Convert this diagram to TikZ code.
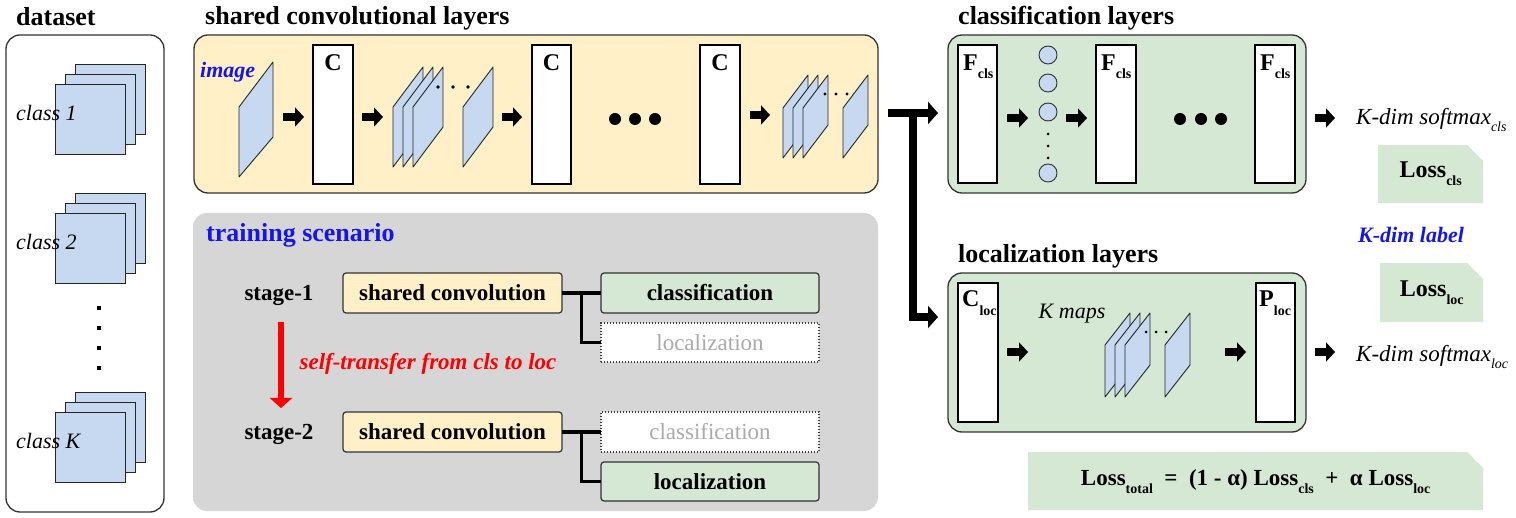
\documentclass[tikz,border=0pt]{standalone}
\usepackage{fontspec}
\setmainfont{Liberation Serif}
\usetikzlibrary{arrows.meta,shapes.misc,calc}
\definecolor{lblue}{RGB}{198,217,240}
\definecolor{lyel}{RGB}{255,240,200}
\definecolor{lgreen}{RGB}{213,232,212}
\definecolor{lgray}{RGB}{214,214,214}
\definecolor{dgray}{RGB}{50,50,50}
\definecolor{tblue}{RGB}{20,20,240}
\definecolor{tred}{RGB}{255,0,0}
\definecolor{fgray}{RGB}{170,170,170}
\newcommand{\fsz}[1]{\fontsize{#1}{#1}\selectfont}
\newcommand{\lowsub}[2][8pt]{\raisebox{-#1}{\fsz{14}#2}}
\newcommand{\parall}[5]{\draw[para] (#1,#2) -- ++(#3,-#4) -- ++(0,#5) -- ++(-#3,#4) -- cycle;}
\tikzset{
  rbox/.style={draw=dgray, line width=1.3pt, rounded corners=14pt, inner sep=0pt, outer sep=0pt, anchor=north west},
  wbox/.style={draw=black, fill=white, line width=1.1pt, inner sep=0pt, outer sep=0pt, anchor=north west},
  para/.style={draw=black!85, fill=lblue, line width=0.9pt, line join=round},
  sq/.style={draw=black!85, fill=lblue, line width=0.9pt, minimum size=70pt, inner sep=0pt, anchor=north west},
  barrow/.style={line width=7.5pt, -{Triangle[length=9pt,width=19pt]}},
  tarrow/.style={line width=8pt, line join=miter, -{Triangle[length=10pt,width=22pt]}},
  title/.style={font=\fsz{26}\bfseries, anchor=base west, inner sep=0pt},
  sbox/.style={draw=dgray, line width=1.2pt, rounded corners=3pt, anchor=north west, inner sep=0pt, outer sep=0pt, font=\fsz{23}\bfseries},
  dbox/.style={draw=black!75, line width=1.1pt, dash pattern=on 1.1pt off 1.9pt, fill=white, anchor=north west, inner sep=0pt, outer sep=0pt, font=\fsz{23}, text=fgray},
  tline/.style={line width=3.5pt, line join=miter},
  lbl/.style={font=\fsz{24}\bfseries, anchor=base west, inner sep=0pt},
  lossbox/.style={chamfered rectangle, chamfered rectangle corners=north east, chamfered rectangle xsep=8pt, chamfered rectangle ysep=8pt, fill=lgreen, anchor=north west, inner sep=0pt, font=\fsz{24}\bfseries},
  neuron/.style={circle, draw=dgray, fill=lblue, minimum size=18pt, inner sep=0pt, line width=0.9pt},
  bigdot/.style={circle, fill=black, minimum size=12pt, inner sep=0pt},
  it22/.style={font=\fsz{22}\itshape, inner sep=0pt}
}
\begin{document}
\begin{tikzpicture}[x=1pt,y=-1pt]
\useasboundingbox (0,0) rectangle (1516,518);

% ---------------- dataset ----------------
\node[title] (tds) at (16,26) {dataset};
\node[rbox, minimum width=158pt, minimum height=477pt] (ds) at (6,35) {};
\foreach \t/\lab/\n in {84/class 1/a, 213/class 2/b, 412/class K/k} {
  \node[sq] (\n3) at (75,\t-20) {};
  \node[sq] (\n2) at (65,\t-10) {};
  \node[sq] (\n1) at (55,\t) {};
  \node[it22, anchor=west] (lab\n) at (16,\t+29) {\lab};
}
\foreach \yy in {308,328,348,368} \fill (97,\yy-2) rectangle ++(4,4);

% ---------------- shared convolutional layers ----------------
\node[rbox, fill=lyel, minimum width=684pt, minimum height=158pt] (sh) at (194,35) {};
\node[title] (tsh) at (205,25) {shared convolutional layers};
\draw[para] (239,107) -- (273,62) -- (273,137) -- (239,177) -- cycle;
\node[font=\fsz{22}\bfseries\itshape, text=tblue, anchor=base west, inner sep=0pt] (img) at (200,78) {image};
\draw[barrow] (283,117) -- (304,117);
\node[wbox, minimum width=40pt, minimum height=139pt] (c1) at (313,45) {};
\node[font=\fsz{24}\bfseries, inner sep=0pt] (c1l) at ($(c1.north)+(0,18)$) {C};
\draw[barrow] (362,117) -- (383,117);
\parall{393}{107}{30}{40}{60}
\parall{403}{107}{30}{40}{60}
\parall{413}{107}{30}{40}{60}
\foreach \xx in {438,453,468} \fill (\xx,87) circle (1.8pt);
\parall{463}{107}{30}{40}{60}
\draw[barrow] (502,117) -- (522,117);
\node[wbox, minimum width=39pt, minimum height=139pt] (c2) at (532,45) {};
\node[font=\fsz{24}\bfseries, inner sep=0pt] (c2l) at ($(c2.north)+(0,18)$) {C};
\node[bigdot] (d1) at (615,119) {};
\node[bigdot] (d2) at (635,119) {};
\node[bigdot] (d3) at (655,119) {};
\node[wbox, minimum width=40pt, minimum height=139pt] (c3) at (700,45) {};
\node[font=\fsz{24}\bfseries, inner sep=0pt] (c3l) at ($(c3.north)+(0,18)$) {C};
\draw[barrow] (750,115) -- (770,115);
\parall{783}{108}{25}{33}{50}
\parall{793}{108}{25}{33}{50}
\parall{803}{108}{25}{33}{50}
\foreach \xx in {825,836,847} \fill (\xx,94) circle (1.6pt);
\parall{843}{108}{25}{33}{50}

% ---------------- classification layers ----------------
\node[rbox, fill=lgreen, minimum width=358pt, minimum height=158pt] (cls) at (948,35) {};
\node[title] (tcls) at (958,25) {classification layers};
\node[wbox, minimum width=39pt, minimum height=138pt] (f1) at (958,45) {};
\node[lbl] at ($(f1.north west)+(5,26)$) {F\lowsub{cls}};
\draw[barrow] (1007,118) -- (1028,118);
\node[neuron] (n1) at (1048,55) {};
\node[neuron] (n2) at (1048,83) {};
\node[neuron] (n3) at (1048,112) {};
\node[neuron] (n4) at (1048,173) {};
\foreach \yy in {134,146,158} \fill (1048,\yy) circle (1.5pt);
\draw[barrow] (1066,118) -- (1087,118);
\node[wbox, minimum width=40pt, minimum height=138pt] (f2) at (1096,45) {};
\node[lbl] at ($(f2.north west)+(5,26)$) {F\lowsub{cls}};
\node[bigdot] (e1) at (1180,119) {};
\node[bigdot] (e2) at (1201,119) {};
\node[bigdot] (e3) at (1221,119) {};
\node[wbox, minimum width=40pt, minimum height=138pt] (f3) at (1255,45) {};
\node[lbl] at ($(f3.north west)+(5,26)$) {F\lowsub{cls}};
\draw[barrow] (1315,118) -- (1335,118);
\node[font=\fsz{23}\itshape, inner sep=0pt, anchor=base west] (smc) at (1356,125) {K-dim softmax\lowsub[7pt]{cls}};
\node[lossbox, minimum width=105pt, minimum height=58pt] (lcls) at (1378,145) {Loss\lowsub{cls}};

\node[font=\fsz{22}\bfseries\itshape, text=tblue, inner sep=0pt] (kl) at (1411,235) {K-dim label};

% ---------------- localization layers ----------------
\node[rbox, fill=lgreen, minimum width=358pt, minimum height=159pt] (loc) at (948,273) {};
\node[title] (tloc) at (958,263) {localization layers};
\node[wbox, minimum width=40pt, minimum height=139pt] (cl) at (958,283) {};
\node[lbl] at ($(cl.north west)+(4,24)$) {C\lowsub[9pt]{loc}};
\draw[barrow] (1007,352) -- (1028,352);
\node[it22] (km) at (1072,314) {K maps};
\parall{1105}{345}{25}{32}{52}
\parall{1115}{345}{25}{32}{52}
\parall{1125}{345}{25}{32}{52}
\foreach \xx in {1146,1156,1166} \fill (\xx,332) circle (1.5pt);
\parall{1165}{345}{25}{32}{52}
\draw[barrow] (1225,352) -- (1246,352);
\node[wbox, minimum width=39pt, minimum height=139pt] (pl) at (1256,283) {};
\node[lbl] at ($(pl.north west)+(3,24)$) {P\lowsub[9pt]{loc}};
\draw[barrow] (1315,352) -- (1335,352);
\node[font=\fsz{23}\itshape, inner sep=0pt, anchor=base west] (sml) at (1356,362) {K-dim softmax\lowsub[7pt]{loc}};
\node[lossbox, minimum width=103pt, minimum height=59pt] (lloc) at (1380,263) {Loss\lowsub{loc}};

\node[lossbox, minimum width=455pt, minimum height=58pt, font=\fsz{23}\bfseries] (ltot) at (1028,452)
  {Loss\lowsub{total}\ \ =\ \ (1 - α) Loss\lowsub{cls}\ \ +\ \ α Loss\lowsub{loc}};

% ---------------- T connector ----------------
\coordinate (tj) at (888,113);
\coordinate (tv) at (913,113);
\coordinate (tb) at (913,317);
\draw[tarrow] (tj) -- ($(cls.west |- tj)+(-10,0)$);
\draw[tarrow] (tv) -- (tb) -- ($(loc.west |- tb)+(-10,0)$);

% ---------------- training scenario ----------------
\node[rbox, draw=none, fill=lgray, minimum width=685pt, minimum height=298pt] (tr) at (193,213) {};
\node[title, text=tblue] (ttr) at (206,242) {training scenario};
\node[font=\fsz{23}\bfseries, inner sep=0pt] (s1) at (279,295) {stage-1};
\node[font=\fsz{23}\bfseries, inner sep=0pt] (s2) at (279,434) {stage-2};
\node[sbox, fill=lyel, minimum width=219pt, minimum height=40pt] (sc1) at (343,273) {shared convolution};
\node[sbox, fill=lgreen, minimum width=218pt, minimum height=40pt] (cls1) at (601,273) {classification};
\node[dbox, minimum width=218pt, minimum height=39pt] (loc1) at (601,323) {localization};
\node[sbox, fill=lyel, minimum width=219pt, minimum height=40pt] (sc2) at (343,412) {shared convolution};
\node[dbox, minimum width=218pt, minimum height=40pt] (cls2) at (601,412) {classification};
\node[sbox, fill=lgreen, minimum width=218pt, minimum height=39pt] (loc2) at (601,462) {localization};
\draw[tline] (sc1.east) -- (cls1.west);
\draw[tline] ($(sc1.east)!0.5!(cls1.west)$) |- (loc1.west);
\draw[tline] (sc2.east) -- (cls2.west);
\draw[tline] ($(sc2.east)!0.5!(cls2.west)$) |- (loc2.west);
\coordinate (ra) at (281,322);
\coordinate (rb) at (281,408);
\draw[line width=6pt, tred, -{Triangle[length=10pt,width=22pt]}] (ra) -- (rb);
\node[font=\fsz{23}\bfseries\itshape, text=tred, inner sep=0pt] (rt) at (428,364) {self-transfer from cls to loc};
\end{tikzpicture}
\end{document}
